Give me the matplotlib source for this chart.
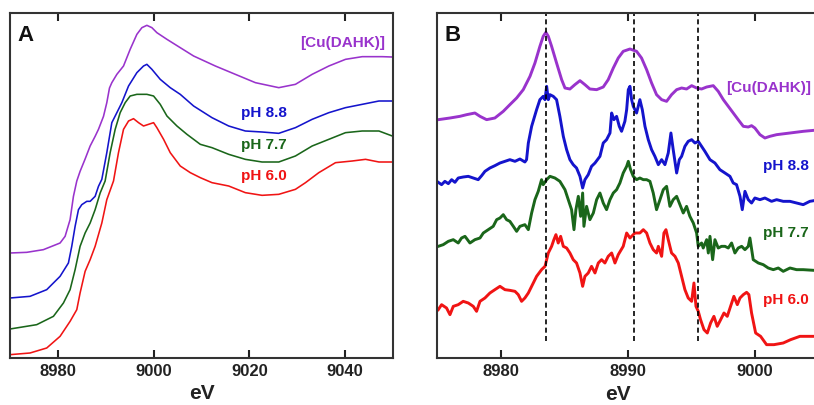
import matplotlib
matplotlib.use("Agg")
import matplotlib.pyplot as plt

plt.rcParams['font.family'] = ['Liberation Sans', 'DejaVu Sans']
plt.rcParams['font.weight'] = 'bold'

# ---------------- Panel A: XANES spectra (offset) ----------------
A_purple_E = [8970.00, 8973.49, 8976.97, 8979.07, 8980.46, 8981.51, 8982.55, 8983.25, 8983.95, 8984.64,
              8985.69, 8986.74, 8987.78, 8988.48, 8989.53, 8990.22, 8990.78, 8991.27, 8992.32, 8993.71,
              8995.10, 8996.50, 8997.55, 8998.59, 8999.64, 9000.68, 9002.78, 9005.56, 9008.35, 9012.89,
              9017.07, 9021.26, 9026.14, 9029.62, 9033.11, 9036.60, 9040.08, 9043.57, 9047.76, 9049.85]
A_purple_I = [3.15, 3.17, 3.25, 3.37, 3.45, 3.65, 4.15, 4.85, 5.31, 5.60,
              5.97, 6.36, 6.65, 6.86, 7.25, 7.66, 8.10, 8.26, 8.51, 8.76,
              9.26, 9.71, 9.91, 9.98, 9.91, 9.76, 9.56, 9.31, 9.06, 8.76,
              8.51, 8.26, 8.11, 8.21, 8.51, 8.76, 8.96, 9.04, 9.04, 9.03]

A_blue_E = [8970.00, 8974.18, 8977.67, 8980.46, 8982.20, 8982.90, 8983.60, 8984.30, 8984.99, 8986.04,
            8986.74, 8987.78, 8988.48, 8989.18, 8990.22, 8991.27, 8992.32, 8993.36, 8994.76, 8996.50,
            8997.89, 8998.59, 8999.64, 9001.38, 9003.47, 9005.56, 9008.35, 9012.19, 9015.68, 9019.16,
            9022.65, 9026.14, 9029.62, 9033.11, 9036.60, 9040.08, 9043.57, 9047.06, 9049.85]
A_blue_I = [1.80, 1.85, 2.05, 2.45, 2.85, 3.35, 3.95, 4.45, 4.60, 4.70,
            4.70, 4.85, 5.15, 5.36, 6.16, 7.06, 7.36, 7.66, 8.16, 8.56,
            8.76, 8.81, 8.66, 8.36, 8.11, 7.91, 7.56, 7.21, 6.96, 6.81,
            6.78, 6.74, 6.91, 7.16, 7.36, 7.51, 7.61, 7.71, 7.71]

A_green_E = [8970.00, 8975.58, 8979.07, 8981.16, 8982.55, 8983.60, 8984.64, 8985.69, 8986.74, 8987.78,
             8988.83, 8989.87, 8990.92, 8991.97, 8993.01, 8994.06, 8995.10, 8996.50, 8998.59, 8999.99,
             9001.38, 9002.78, 9004.87, 9006.96, 9009.75, 9012.19, 9015.68, 9019.16, 9022.65, 9026.14,
             9029.62, 9033.11, 9036.60, 9040.08, 9043.57, 9047.06, 9049.85]
A_green_I = [0.87, 1.00, 1.25, 1.65, 2.05, 2.65, 3.35, 3.75, 4.05, 4.45,
             4.95, 5.31, 6.16, 6.86, 7.36, 7.66, 7.86, 7.91, 7.91, 7.86,
             7.61, 7.26, 6.96, 6.71, 6.41, 6.31, 6.11, 5.96, 5.88, 5.88,
             6.06, 6.36, 6.56, 6.76, 6.81, 6.81, 6.66]

A_red_E = [8970.00, 8974.18, 8977.67, 8980.46, 8982.55, 8983.95, 8984.64, 8985.69, 8986.74, 8987.78,
           8989.18, 8990.22, 8991.62, 8992.66, 8993.71, 8994.76, 8995.80, 8996.85, 8997.89, 8998.94,
           8999.99, 9000.68, 9002.08, 9003.47, 9005.56, 9007.66, 9009.75, 9012.19, 9015.68, 9019.16,
           9022.65, 9026.14, 9029.62, 9031.72, 9034.50, 9037.99, 9041.48, 9044.27, 9047.06, 9049.85]
A_red_I = [0.10, 0.15, 0.30, 0.65, 1.10, 1.45, 1.95, 2.60, 2.95, 3.35,
           4.05, 4.75, 5.31, 6.16, 6.86, 7.11, 7.18, 7.06, 6.96, 7.01,
           7.06, 6.91, 6.56, 6.16, 5.76, 5.56, 5.41, 5.26, 5.16, 4.96,
           4.88, 4.91, 5.06, 5.26, 5.56, 5.86, 5.91, 5.96, 5.88, 5.88]

# ---------------- Panel B: first-derivative spectra (offset) ----------------
B_purple_E = [8975.10, 8976.02, 8976.80, 8977.33, 8977.98, 8978.38, 8978.90, 8979.55, 8980.21, 8980.73,
              8981.26, 8981.78, 8982.31, 8982.70, 8983.09, 8983.35, 8983.56, 8983.75, 8984.01, 8984.40,
              8984.80, 8985.06, 8985.45, 8985.84, 8986.24, 8986.63, 8987.02, 8987.55, 8988.07, 8988.46,
              8988.86, 8989.25, 8989.64, 8990.17, 8990.69, 8991.08, 8991.48, 8991.87, 8992.26, 8992.66,
              8993.05, 8993.44, 8993.84, 8994.23, 8994.62, 8995.02, 8995.41, 8995.80, 8996.20, 8996.72,
              8997.11, 8997.51, 8997.90, 8998.29, 8998.68, 8999.08, 8999.47, 8999.73, 8999.99, 9000.39,
              9000.78, 9001.17, 9001.70, 9002.75, 9003.79, 9004.63]
B_purple_I = [7.15, 7.20, 7.25, 7.30, 7.35, 7.25, 7.15, 7.20, 7.40, 7.60,
              7.80, 8.05, 8.45, 8.85, 9.35, 9.65, 9.77, 9.65, 9.35, 8.85,
              8.35, 8.10, 8.07, 8.20, 8.32, 8.20, 8.07, 8.05, 8.13, 8.35,
              8.70, 9.00, 9.20, 9.27, 9.20, 9.00, 8.65, 8.25, 7.90, 7.75,
              7.70, 7.90, 8.05, 8.10, 8.07, 8.17, 8.10, 8.07, 8.13, 8.17,
              8.00, 7.75, 7.55, 7.35, 7.15, 6.95, 6.93, 6.97, 6.90, 6.70,
              6.60, 6.65, 6.70, 6.75, 6.80, 6.83]

B_blue_E = [8975.10, 8975.36, 8975.62, 8975.89, 8976.15, 8976.41, 8976.67, 8977.06, 8977.46, 8977.85,
            8978.24, 8978.51, 8978.77, 8979.16, 8979.55, 8979.95, 8980.34, 8980.73, 8981.13, 8981.52,
            8981.91, 8982.04, 8982.18, 8982.44, 8982.83, 8983.09, 8983.35, 8983.49, 8983.62, 8983.75,
            8983.88, 8984.14, 8984.40, 8984.66, 8984.93, 8985.19, 8985.45, 8985.71, 8985.97, 8986.24,
            8986.45, 8986.63, 8986.89, 8987.15, 8987.42, 8987.81, 8988.07, 8988.33, 8988.60, 8988.73,
            8988.91, 8989.12, 8989.33, 8989.51, 8989.77, 8989.91, 8990.04, 8990.17, 8990.30, 8990.43,
            8990.69, 8990.95, 8991.14, 8991.35, 8991.61, 8991.87, 8992.13, 8992.40, 8992.66, 8992.92,
            8993.18, 8993.39, 8993.57, 8993.84, 8994.05, 8994.23, 8994.49, 8994.75, 8995.02, 8995.28,
            8995.54, 8995.80, 8996.06, 8996.46, 8996.85, 8997.24, 8997.64, 8998.03, 8998.29, 8998.55,
            8998.82, 8999.00, 8999.21, 8999.47, 8999.73, 8999.99, 9000.39, 9000.78, 9001.30, 9001.70,
            9002.22, 9002.75, 9003.27, 9003.79, 9004.31, 9004.63]
B_blue_I = [5.27, 5.20, 5.30, 5.23, 5.35, 5.27, 5.40, 5.43, 5.45, 5.40,
            5.35, 5.47, 5.60, 5.70, 5.77, 5.85, 5.90, 5.95, 5.90, 5.97,
            5.88, 5.95, 6.45, 6.95, 7.45, 7.75, 7.85, 7.75, 8.15, 7.75,
            7.90, 7.85, 7.75, 7.25, 6.65, 6.25, 5.95, 5.80, 5.70, 5.45,
            5.10, 5.35, 5.50, 5.75, 5.85, 6.05, 6.45, 6.55, 6.75, 7.35,
            7.15, 7.25, 6.95, 6.80, 7.10, 7.45, 8.05, 8.15, 7.75, 7.55,
            7.35, 7.75, 7.45, 6.95, 6.55, 6.25, 6.05, 5.80, 5.95, 5.80,
            6.15, 6.75, 6.25, 5.55, 5.95, 6.05, 6.35, 6.50, 6.55, 6.45,
            6.50, 6.35, 6.20, 5.95, 5.85, 5.65, 5.55, 5.45, 5.25, 5.20,
            4.85, 4.45, 5.00, 4.75, 4.65, 4.80, 4.75, 4.80, 4.70, 4.75,
            4.70, 4.70, 4.65, 4.60, 4.70, 4.72]

B_green_E = [8975.10, 8975.49, 8975.89, 8976.28, 8976.67, 8976.93, 8977.20, 8977.59, 8977.98, 8978.38,
             8978.64, 8979.03, 8979.42, 8979.69, 8979.95, 8980.21, 8980.47, 8980.73, 8981.00, 8981.26,
             8981.52, 8981.91, 8982.18, 8982.44, 8982.70, 8982.96, 8983.22, 8983.35, 8983.62, 8983.88,
             8984.27, 8984.66, 8985.06, 8985.32, 8985.58, 8985.77, 8985.92, 8986.11, 8986.29, 8986.45,
             8986.55, 8986.76, 8987.02, 8987.29, 8987.55, 8987.81, 8988.07, 8988.33, 8988.60, 8988.86,
             8989.12, 8989.38, 8989.64, 8989.91, 8990.04, 8990.22, 8990.43, 8990.69, 8990.95, 8991.22,
             8991.48, 8991.74, 8992.00, 8992.26, 8992.53, 8992.79, 8993.05, 8993.31, 8993.57, 8993.84,
             8994.10, 8994.36, 8994.62, 8994.88, 8995.15, 8995.41, 8995.54, 8995.80, 8995.93, 8996.20,
             8996.33, 8996.46, 8996.67, 8996.85, 8997.11, 8997.37, 8997.64, 8997.90, 8998.16, 8998.42,
             8998.68, 8998.95, 8999.21, 8999.47, 8999.60, 8999.86, 9000.26, 9000.65, 9001.04, 9001.44,
             9001.83, 9002.22, 9002.75, 9003.27, 9003.79, 9004.63]
B_green_I = [3.35, 3.40, 3.50, 3.55, 3.45, 3.60, 3.65, 3.45, 3.55, 3.60,
             3.75, 3.85, 3.95, 4.15, 4.20, 4.30, 4.15, 4.10, 3.95, 3.80,
             3.95, 4.00, 3.85, 4.35, 4.75, 5.00, 5.35, 5.20, 5.35, 5.45,
             5.40, 5.30, 5.05, 4.75, 4.45, 3.85, 4.45, 4.85, 4.25, 4.95,
             3.95, 4.55, 4.15, 4.35, 4.75, 4.95, 4.65, 4.45, 4.75, 4.95,
             5.05, 5.25, 5.55, 5.75, 5.90, 5.65, 5.45, 5.35, 5.40, 5.35,
             5.35, 5.30, 4.95, 4.45, 4.75, 5.05, 5.15, 4.55, 4.75, 4.85,
             4.60, 4.35, 4.55, 4.25, 4.05, 3.75, 3.35, 3.45, 3.30, 3.55,
             3.15, 3.65, 2.95, 3.55, 3.30, 3.35, 3.35, 3.30, 3.45, 3.15,
             3.30, 3.35, 3.25, 3.35, 3.60, 2.95, 2.85, 2.80, 2.70, 2.65,
             2.70, 2.60, 2.70, 2.65, 2.65, 2.63]

B_red_E = [8975.10, 8975.36, 8975.75, 8976.02, 8976.28, 8976.67, 8977.06, 8977.46, 8977.85, 8978.11,
           8978.38, 8978.77, 8979.16, 8979.55, 8979.95, 8980.34, 8980.73, 8981.13, 8981.39, 8981.65,
           8981.91, 8982.18, 8982.44, 8982.83, 8983.22, 8983.49, 8983.75, 8984.01, 8984.19, 8984.35,
           8984.53, 8984.72, 8984.93, 8985.19, 8985.45, 8985.71, 8985.97, 8986.24, 8986.45, 8986.63,
           8986.89, 8987.15, 8987.42, 8987.68, 8987.94, 8988.20, 8988.46, 8988.73, 8988.99, 8989.25,
           8989.64, 8989.91, 8990.17, 8990.56, 8990.95, 8991.22, 8991.48, 8991.74, 8992.00, 8992.26,
           8992.40, 8992.66, 8992.84, 8993.00, 8993.18, 8993.44, 8993.71, 8993.97, 8994.23, 8994.49,
           8994.75, 8995.02, 8995.20, 8995.36, 8995.54, 8995.72, 8995.99, 8996.25, 8996.51, 8996.77,
           8997.03, 8997.30, 8997.56, 8997.82, 8998.08, 8998.34, 8998.61, 8998.82, 8999.08, 8999.34,
           8999.52, 8999.73, 9000.05, 9000.44, 9000.91, 9001.49, 9002.22, 9002.80, 9003.53, 9004.63]
B_red_I = [1.45, 1.60, 1.50, 1.30, 1.55, 1.60, 1.70, 1.65, 1.55, 1.40,
           1.70, 1.80, 1.95, 2.05, 2.15, 2.05, 2.03, 2.00, 1.90, 1.70,
           1.80, 1.95, 2.15, 2.45, 2.65, 2.75, 3.15, 3.35, 3.55, 3.70,
           3.45, 3.65, 3.35, 3.30, 3.15, 2.95, 2.85, 2.55, 2.15, 2.45,
           2.55, 2.75, 2.55, 2.85, 2.95, 2.85, 3.05, 3.15, 2.85, 3.10,
           3.35, 3.75, 3.60, 3.75, 3.75, 3.85, 3.75, 3.45, 3.25, 3.15,
           3.35, 3.05, 3.75, 3.85, 3.55, 3.15, 3.05, 2.85, 2.45, 2.05,
           1.80, 1.70, 2.25, 1.55, 1.40, 1.15, 0.85, 0.75, 1.05, 1.25,
           0.95, 1.15, 1.35, 1.25, 1.55, 1.85, 1.60, 1.80, 1.90, 1.97,
           1.90, 1.35, 0.75, 0.65, 0.40, 0.40, 0.45, 0.55, 0.65, 0.65]

dash_positions = [8983.56, 8990.5, 8995.5]

labels = ['[Cu(DAHK)]', 'pH 8.8', 'pH 7.7', 'pH 6.0']
colors = ['#9933CC', '#1414CC', '#1A661A', '#F01414']

A_label_x = [9039.5, 9023.0, 9023.0, 9023.0]
A_label_y = [9.45, 7.35, 6.38, 5.45]
B_label_x = [8997.75, 9000.65, 9000.65, 9000.65]
B_label_y = [8.10, 5.75, 3.75, 1.75]

A_ticks = [8980, 9000, 9020, 9040]
B_ticks = [8980, 8990, 9000]

fig = plt.figure(figsize=(8.14, 4.05), dpi=100)
W, H = 814.0, 405.0
axA = fig.add_axes([10 / W, 47 / H, 383 / W, 345 / H])
axB = fig.add_axes([437 / W, 47 / H, 381.6 / W, 345 / H])

A_series = [(A_purple_E, A_purple_I), (A_blue_E, A_blue_I), (A_green_E, A_green_I), (A_red_E, A_red_I)]
B_series = [(B_purple_E, B_purple_I), (B_blue_E, B_blue_I), (B_green_E, B_green_I), (B_red_E, B_red_I)]

for (E, I), c in zip(A_series, colors):
    axA.plot(E, I, color=c, lw=1.15, solid_joinstyle='round')
for (E, I), c in zip(B_series, colors):
    axB.plot(E, I, color=c, lw=2.1, solid_joinstyle='round')

axB.vlines(dash_positions, 0.5, 10.35, colors='black', linestyles=(0, (3, 2)), lw=1.2)

for lab, c, x, y in zip(labels, colors, A_label_x, A_label_y):
    axA.text(x, y, lab, color=c, fontsize=11, fontweight='bold', ha='center', va='center')
for lab, c, x, y in zip(labels, colors, B_label_x, B_label_y):
    axB.text(x, y, lab, color=c, fontsize=11, fontweight='bold', ha='left', va='center', clip_on=False)

axA.set_xlim(8970, 9050)
axB.set_xlim(8975, 9005)
for ax, ticks, letter in [(axA, A_ticks, 'A'), (axB, B_ticks, 'B')]:
    ax.set_ylim(0, 10.35)
    ax.set_xticks(ticks)
    ax.set_yticks([])
    ax.tick_params(axis='x', direction='in', top=True, length=6, width=1.5,
                   labelsize=12, pad=4, colors='#222222')
    for s in ax.spines.values():
        s.set_linewidth(1.5)
        s.set_color('#333333')
    ax.set_xlabel('eV', fontsize=15, fontweight='bold', color='#222222', labelpad=0)
    ax.text(0.02, 0.965, letter, transform=ax.transAxes, fontsize=16, fontweight='bold',
            ha='left', va='top', color='#111111')

axA.xaxis.set_label_coords(0.5, -0.075)
axB.xaxis.set_label_coords(0.474, -0.077)

fig.savefig('out.png', dpi=100)
